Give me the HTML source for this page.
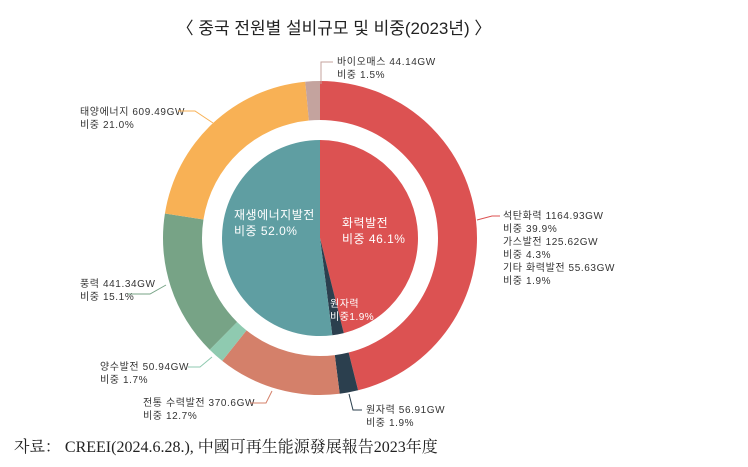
<!DOCTYPE html>
<html><head><meta charset="utf-8"><style>
body{margin:0;width:748px;height:467px;background:#fff;overflow:hidden;font-family:"Liberation Sans","Noto Sans CJK KR",sans-serif}
svg{position:absolute;left:0;top:0}
</style></head><body>
<svg width="748" height="467" id="s" font-family="Liberation Sans, Noto Sans CJK KR, sans-serif">
<text x="334" y="34" text-anchor="middle" font-size="17" fill="#222">〈 중국 전원별 설비규모 및 비중(2023년) 〉</text>
<g id="g"></g>
<g font-size="10" fill="#333" letter-spacing="0.6">
<text x="337" y="65">바이오매스 44.14GW</text><text x="337" y="78">비중 1.5%</text>
<text x="80" y="115">태양에너지 609.49GW</text><text x="80" y="128">비중 21.0%</text>
<text x="503" y="219">석탄화력 1164.93GW</text><text x="503" y="232">비중 39.9%</text>
<text x="503" y="245">가스발전 125.62GW</text><text x="503" y="258">비중 4.3%</text>
<text x="503" y="271">기타 화력발전 55.63GW</text><text x="503" y="284">비중 1.9%</text>
<text x="80" y="287">풍력 441.34GW</text><text x="80" y="300">비중 15.1%</text>
<text x="100" y="370">양수발전 50.94GW</text><text x="100" y="383">비중 1.7%</text>
<text x="143" y="406">전통 수력발전 370.6GW</text><text x="143" y="419">비중 12.7%</text>
<text x="366" y="413">원자력 56.91GW</text><text x="366" y="426">비중 1.9%</text>
</g>
<g fill="#fff" font-size="12" letter-spacing="0.5">
<text x="234" y="219">재생에너지발전</text><text x="234" y="235">비중 52.0%</text>
<text x="342" y="227">화력발전</text><text x="342" y="243">비중 46.1%</text>
<text x="330" y="307" font-size="10">원자력</text><text x="330" y="320" font-size="10">비중1.9%</text>
</g>
<g fill="none" stroke-width="1">
<polyline points="321,84 321,62 333,62" stroke="#c4a39e"/>
<polyline points="213,123 195,111 178,111" stroke="#f8b155"/>
<polyline points="477,220 492,216 500,216" stroke="#dc5252"/>
<polyline points="166,285 150,294 128,294" stroke="#77a386"/>
<polyline points="212,357 200,367 188,367" stroke="#8fcab0"/>
<polyline points="272,391 266,403 250,403" stroke="#d4806a"/>
<polyline points="349,394 353,410 362,410" stroke="#2b3f4e"/>
</g>
<text x="14" y="452" font-size="16" fill="#222" font-family="Liberation Serif, Noto Serif CJK SC, serif">자료： CREEI(2024.6.28.), 中國可再生能源發展報告2023年度</text>
</svg>
<script>
var cx=320,cy=238,g=document.getElementById('g');
function pt(r,a){a=a*Math.PI/180;return [cx+r*Math.sin(a),cy-r*Math.cos(a)];}
function arc(r1,r2,a0,a1,c){var p=[pt(r2,a0),pt(r2,a1),pt(r1,a1),pt(r1,a0)],l=(a1-a0)>180?1:0,d;
if(r1==0)d='M'+cx+','+cy+'L'+p[0]+'A'+r2+','+r2+' 0 '+l+' 1 '+p[1]+'Z';
else d='M'+p[0]+'A'+r2+','+r2+' 0 '+l+' 1 '+p[1]+'L'+p[2]+'A'+r1+','+r1+' 0 '+l+' 0 '+p[3]+'Z';
var e=document.createElementNS('http://www.w3.org/2000/svg','path');e.setAttribute('d',d);e.setAttribute('fill',c);g.appendChild(e);}
var outer=[[46.1,'#dc5252'],[1.9,'#2b3f4e'],[12.7,'#d4806a'],[1.7,'#8fcab0'],[15.1,'#77a386'],[21,'#f8b155'],[1.5,'#c4a39e']];
var a=0;outer.forEach(function(s){var b=a+s[0]*3.6;arc(118,157,a,b,s[1]);a=b;});
var inner=[[46.1,'#dc5252'],[1.9,'#2b3f4e'],[52,'#5f9ea2']];
a=0;inner.forEach(function(s){var b=a+s[0]*3.6;arc(0,98,a,b,s[1]);a=b;});
</script>
</body></html>
